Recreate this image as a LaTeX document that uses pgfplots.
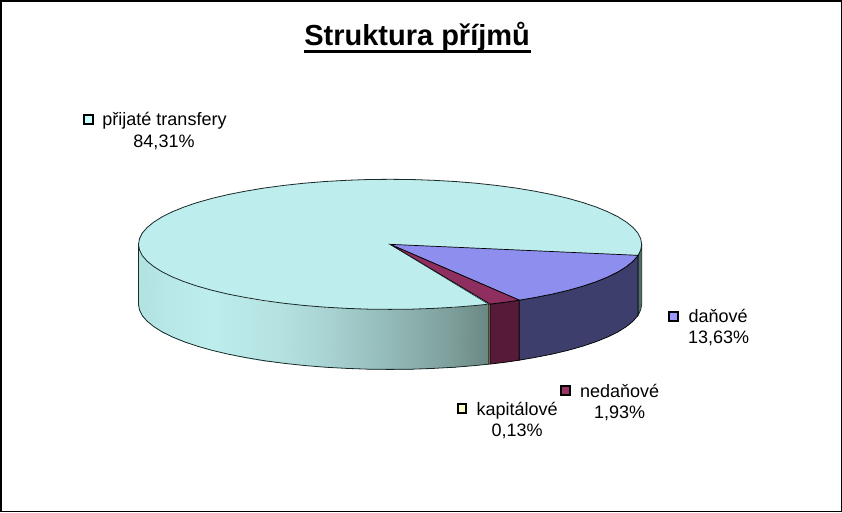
\documentclass[border=0pt]{standalone}
\usepackage{pgfplots}
\pgfplotsset{compat=1.18}
\usepackage{fontspec}
\setmainfont{Liberation Sans}
\newcommand\lf{\fontsize{18}{21}\selectfont}
\definecolor{ttop}{RGB}{189,237,237}
\definecolor{dtop}{RGB}{142,142,238}
\definecolor{ntop}{RGB}{143,47,96}
\definecolor{dwall}{RGB}{62,62,108}
\definecolor{nwall}{RGB}{87,26,56}
\definecolor{kwall}{RGB}{130,130,90}
\definecolor{rwall}{RGB}{80,110,108}
\definecolor{edge}{RGB}{25,40,40}
\begin{document}
\begin{tikzpicture}[x=1pt,y=1pt]
\begin{axis}[
  scale only axis, width=842pt, height=512pt,
  xmin=0, xmax=842, ymin=0, ymax=512, y dir=reverse,
  hide axis, clip=false,
  colormap={wall}{rgb255(0pt)=(176,226,224); rgb255(27pt)=(183,231,231); rgb255(72pt)=(189,237,237); rgb255(142pt)=(180,226,225); rgb255(192pt)=(167,210,209); rgb255(262pt)=(143,181,179); rgb255(312pt)=(126,159,156); rgb255(350pt)=(106,135,130)},
  point meta min=138, point meta max=489,
]
% frame
\addplot[black, line width=1.5pt, line cap=rect] coordinates {(0.8,0.5) (841,0.5) (841,511) (0.8,511) (0.8,0.5)};
% curved wall of the large slice
\addplot[surf, shader=interp, mesh/rows=2, point meta=x, draw=none] coordinates {
(138.5,244) (139.5,249.7) (142.3,255.3) (147.1,260.8) (153.7,266.2) (162.1,271.5) (172.2,276.5) (184.0,281.3) (197.3,285.8) (212.2,290.0) (228.3,293.8) (245.7,297.2) (264.2,300.3) (283.7,302.9) (304.0,305.1) (324.9,306.8) (346.3,308.0) (368.1,308.8) (390,309) (411.9,308.8) (433.7,308.0) (455.1,306.8) (476.0,305.1) (488.3,303.8)

(138.5,304) (139.5,309.7) (142.3,315.3) (147.1,320.8) (153.7,326.2) (162.1,331.5) (172.2,336.5) (184.0,341.3) (197.3,345.8) (212.2,350.0) (228.3,353.8) (245.7,357.2) (264.2,360.3) (283.7,362.9) (304.0,365.1) (324.9,366.8) (346.3,368.0) (368.1,368.8) (390,369) (411.9,368.8) (433.7,368.0) (455.1,366.8) (476.0,365.1) (488.3,363.8)
};
% outline of that wall
\addplot[edge, line width=0.8pt] coordinates {(138.5,244) (138.5,304) (139.5,309.7) (142.3,315.3) (147.1,320.8) (153.7,326.2) (162.1,331.5) (172.2,336.5) (184.0,341.3) (197.3,345.8) (212.2,350.0) (228.3,353.8) (245.7,357.2) (264.2,360.3) (283.7,362.9) (304.0,365.1) (324.9,366.8) (346.3,368.0) (368.1,368.8) (390,369) (411.9,368.8) (433.7,368.0) (455.1,366.8) (476.0,365.1) (488.3,363.8)};
% kapitalove wall
\addplot[fill=kwall, draw=edge, line width=0.5pt] coordinates {(488.3,303.8) (490,303.7) (490,363.7) (488.3,363.8)} --cycle;
% nedanove wall
\addplot[fill=nwall, draw=black, line width=0.7pt] coordinates {(490,303.7) (505,301.9) (519.2,299.8) (519.2,359.8) (505,361.9) (490,363.7)} --cycle;
% right-hand end of the large slice
\addplot[fill=rwall, draw=edge, line width=0.7pt] coordinates {(637.9,255) (640.5,249.7) (641.5,244) (641.5,304) (640.5,309.7) (637.9,315)} --cycle;
% danove wall
\addplot[fill=dwall, draw=black, line width=0.7pt] coordinates {(519.2,299.8) (534.3,297.2) (551.7,293.8) (567.8,290.0) (582.7,285.8) (596.0,281.3) (607.8,276.5) (617.9,271.5) (626.3,266.2) (632.9,260.8) (637.9,255) (637.9,315) (632.9,320.8) (626.3,326.2) (617.9,331.5) (607.8,336.5) (596.0,341.3) (582.7,345.8) (567.8,350) (551.7,353.8) (534.3,357.2) (519.2,359.8)} --cycle;
% top face
\addplot[fill=ttop, draw=edge, line width=0.8pt] coordinates {
(641.5,244) (640.5,238.3) (637.7,232.7) (632.9,227.2) (626.3,221.8) (617.9,216.5) (607.8,211.5) (596.0,206.7) (582.7,202.2) (567.8,198.0) (551.7,194.2) (534.3,190.8) (515.8,187.7) (496.3,185.1) (476.0,182.9) (455.1,181.2) (433.7,180.0) (411.9,179.2) (390,179)
(368.1,179.2) (346.3,180.0) (324.9,181.2) (304.0,182.9) (283.7,185.1) (264.2,187.7) (245.7,190.8) (228.3,194.2) (212.2,198.0) (197.3,202.2) (184.0,206.7) (172.2,211.5) (162.1,216.5) (153.7,221.8) (147.1,227.2) (142.3,232.7) (139.5,238.3) (138.5,244)
(139.5,249.7) (142.3,255.3) (147.1,260.8) (153.7,266.2) (162.1,271.5) (172.2,276.5) (184.0,281.3) (197.3,285.8) (212.2,290.0) (228.3,293.8) (245.7,297.2) (264.2,300.3) (283.7,302.9) (304.0,305.1) (324.9,306.8) (346.3,308.0) (368.1,308.8) (390,309) (411.9,308.8) (433.7,308.0) (455.1,306.8) (476.0,305.1) (488.3,303.8)
(490,303.7) (505,301.9) (519.2,299.8) (534.3,297.2) (551.7,293.8) (567.8,290.0) (582.7,285.8) (596.0,281.3) (607.8,276.5) (617.9,271.5) (626.3,266.2) (632.9,260.8) (637.9,255) (640.5,249.7)} --cycle;
% slices on the top face
\addplot[fill=dtop, draw=black, line width=0.7pt] coordinates {(390,244) (637.9,255) (632.9,260.8) (626.3,266.2) (617.9,271.5) (607.8,276.5) (596.0,281.3) (582.7,285.8) (567.8,290.0) (551.7,293.8) (534.3,297.2) (519.2,299.8)} --cycle;
\addplot[fill=ntop, draw=black, line width=0.7pt] coordinates {(390,244) (519.2,299.8) (505,301.9) (490,303.7)} --cycle;
\addplot[draw=edge, line width=0.5pt] coordinates {(390,244) (488.3,303.8)};
% legend keys
\addplot[only marks, mark=square*, mark size=4.3pt, line width=2pt, mark options={fill={rgb,255:red,204;green,255;blue,255}, draw=black, solid}] coordinates {(88.5,119.5)};
\addplot[only marks, mark=square*, mark size=4.3pt, line width=2pt, mark options={fill={rgb,255:red,153;green,153;blue,255}, draw=black, solid}] coordinates {(673.5,316)};
\addplot[only marks, mark=square*, mark size=4.3pt, line width=2pt, mark options={fill={rgb,255:red,153;green,51;blue,102}, draw=black, solid}] coordinates {(565.5,390)};
\addplot[only marks, mark=square*, mark size=4.3pt, line width=2pt, mark options={fill={rgb,255:red,255;green,255;blue,204}, draw=black, solid}] coordinates {(462,408)};
% title underline
\addplot[black, line width=3pt] coordinates {(303.5,51.5) (530.5,51.5)};
% texts
\node[anchor=base, inner sep=0pt] at (axis cs:417,45.5) {\fontsize{29}{33}\selectfont\bfseries Struktura příjmů};
\node[anchor=base, inner sep=0pt] at (axis cs:164.5,125.5) {\lf přijaté transfery};
\node[anchor=base, inner sep=0pt] at (axis cs:164,147) {\lf 84,31\%};
\node[anchor=base, inner sep=0pt] at (axis cs:718,322) {\lf daňové};
\node[anchor=base, inner sep=0pt] at (axis cs:718.5,343) {\lf 13,63\%};
\node[anchor=base, inner sep=0pt] at (axis cs:619.5,397) {\lf nedaňové};
\node[anchor=base, inner sep=0pt] at (axis cs:619.5,418.5) {\lf 1,93\%};
\node[anchor=base, inner sep=0pt] at (axis cs:517,415) {\lf kapitálové};
\node[anchor=base, inner sep=0pt] at (axis cs:517,436.5) {\lf 0,13\%};
\end{axis}
\end{tikzpicture}
\end{document}
